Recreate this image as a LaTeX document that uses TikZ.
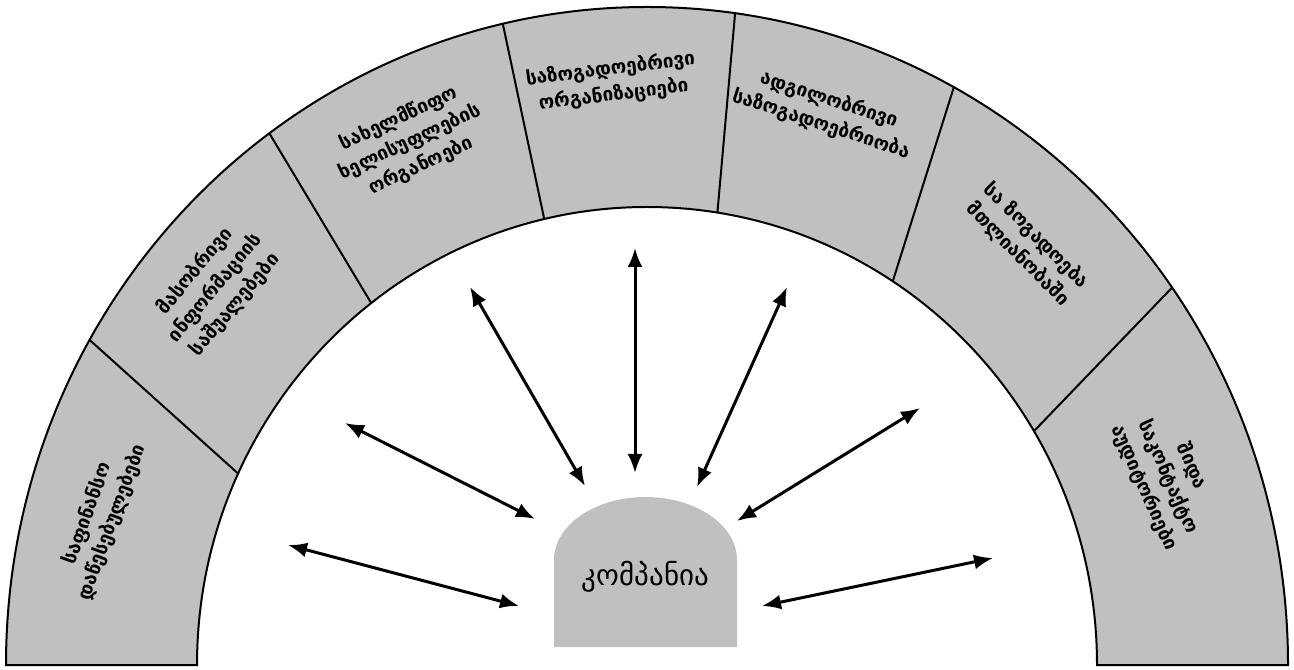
\documentclass[tikz,border=0pt]{standalone}
\usepackage{fontspec}
\setmainfont{DejaVu Sans}
\usetikzlibrary{arrows.meta}
\definecolor{ringgray}{HTML}{C0C0C0}
\begin{document}
\begin{tikzpicture}[x=0.5pt,y=0.5pt,
    sectorlabel/.style={font=\bfseries\fontsize{9.5}{13}\selectfont, align=center},
    linkarrow/.style={{Latex[length=9.5pt,width=7.5pt]}-{Latex[length=9.5pt,width=7.5pt]}, line width=1.5pt}]
  \useasboundingbox (0,0) rectangle (1294,669);

  % Half ring
  \filldraw[fill=ringgray, line width=1pt] (6,4) arc[start angle=180, end angle=0, x radius=641, y radius=658]
    -- (1097,4) arc[start angle=0, end angle=180, x radius=450, y radius=458] -- cycle;
  % Sector borders (inner angle / outer angle)
  \foreach \a/\b in {155.3/150.4, 127.8/126.1, 103.2/103.0, 81.0/82.1, 56.9/61.4, 30.7/35.0}
    \draw[line width=1pt] ({647+450*cos(\a)},{4+458*sin(\a)}) -- ({647+641*cos(\b)},{4+658*sin(\b)});

  % Sector labels
  \node[sectorlabel, rotate=70] (finance) at (100,151) {საფინანსო\\დაწესებულებები};
  \node[sectorlabel, rotate=50] (media) at (215,381) {მასობრივი\\ინფორმაციის\\საშუალებები};
  \node[sectorlabel, rotate=25] (government) at (410,527) {სახელმწიფო\\ხელისუფლების\\ორგანოები};
  \node[sectorlabel, rotate=7] (civic) at (612,587) {საზოგადოებრივი\\ორგანიზაციები};
  \node[sectorlabel, rotate=-18] (local) at (825,557) {ადგილობრივი\\საზოგადოებრიობა};
  \node[sectorlabel, rotate=-45] (public) at (1027,424) {სა ზოგადოება\\მთლიანობაში};
  \node[sectorlabel, rotate=-66] (internal) at (1168,192) {შიდა\\საკონტაქტო\\აუდიტორიები};

  % Company block
  \fill[ringgray] (554,22) -- (554,109) arc[start angle=180, end angle=0, x radius=91.5, y radius=63]
    -- (737,22) -- cycle;
  \node[font=\fontsize{14.5}{17}\selectfont] (company) at (645.5,92) {კომპანია};

  % Arrow ends
  \coordinate (out1) at (288,124); \coordinate (in1) at (519,63);
  \coordinate (out2) at (345,246); \coordinate (in2) at (535,150);
  \coordinate (out3) at (470,382); \coordinate (in3) at (585,183);
  \coordinate (out4) at (635,421); \coordinate (in4) at (635,196);
  \coordinate (out5) at (787,382); \coordinate (in5) at (697,182);
  \coordinate (out6) at (920,261); \coordinate (in6) at (737,148);
  \coordinate (out7) at (993,111); \coordinate (in7) at (762,63);
  \foreach \i in {1,...,7}
    \draw[linkarrow] (out\i) -- (in\i);
\end{tikzpicture}
\end{document}
